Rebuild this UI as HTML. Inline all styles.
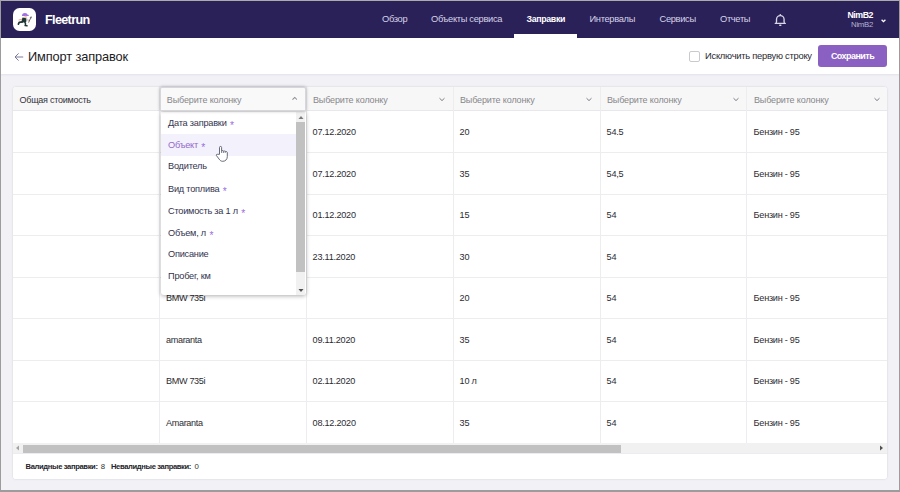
<!DOCTYPE html>
<html lang="ru">
<head>
<meta charset="utf-8">
<title>Fleetrun</title>
<style>
*{box-sizing:border-box;margin:0;padding:0}
html,body{width:900px;height:492px;overflow:hidden}
body{font-family:"Liberation Sans",sans-serif;background:#f1f1f6;position:relative;color:#222}
div,span{white-space:nowrap}
#frame{position:absolute;left:0;top:0;width:900px;height:492px;border:1px solid #9c9c9c;border-top-color:#ababab;border-bottom:2px solid #9c9c9c;z-index:50}
#nav{position:absolute;left:1px;top:1px;width:898px;height:37px;background:#2a2159}
#logo{position:absolute;left:12px;top:7px;width:23px;height:23px;border-radius:6.5px;background:#fff;overflow:hidden}
#brand{position:absolute;left:44px;top:11px;font-size:12.6px;font-weight:bold;color:#fff;line-height:16px;letter-spacing:-0.65px}
.ni{position:absolute;top:12px;font-size:9.3px;line-height:12px;color:#d6d3e8;letter-spacing:-0.32px}
.ni.act{color:#fff;font-weight:bold;font-size:8.8px;letter-spacing:-0.33px}
#actbar{position:absolute;left:513px;top:33px;width:63px;height:4px;background:#fff}
#toolbar{position:absolute;left:1px;top:38px;width:898px;height:36px;background:#fff;box-shadow:0 1px 2px rgba(30,30,60,.07)}
#title{position:absolute;left:27px;top:10.7px;font-size:12.8px;line-height:16px;color:#1c1c24;letter-spacing:-0.12px}
#chk{position:absolute;left:688px;top:13px;width:11px;height:11px;border:1px solid #c9c9cf;border-radius:2px;background:#fff}
#chkl{position:absolute;left:704px;top:12px;font-size:9.4px;line-height:12px;color:#2b2b33;letter-spacing:-0.26px}
#save{position:absolute;left:817px;top:7px;width:69px;height:22px;border-radius:3px;background:#8a61c2;color:#fff;font-weight:bold;font-size:9px;line-height:22px;text-align:center;letter-spacing:-0.55px}
#panel{position:absolute;left:13px;top:87px;width:874px;height:392px;background:#fff;border-radius:3px;box-shadow:0 0 2px rgba(40,40,80,.18)}
#pin{position:absolute;left:0;top:0;width:874px;height:392px;border-radius:3px;overflow:hidden}
#thead{position:absolute;left:0;top:0;width:874px;height:24px;background:#f7f7f8;border-bottom:1px solid #e8e8ec}
.vl{position:absolute;top:0;width:1px;height:356px;background:#ededf0}
.hl{position:absolute;left:0;width:874px;height:1px;background:#ededf0}
.th{position:absolute;top:6.6px;font-size:9px;line-height:12px;color:#87878a;letter-spacing:-0.14px}
.th.first{color:#33333b;letter-spacing:-0.25px}
.td{position:absolute;font-size:9.1px;line-height:12px;color:#2c2c32;letter-spacing:-0.24px}
.chev{position:absolute;top:9.5px;width:6px;height:5px}
#hscroll{position:absolute;left:0;top:356.3px;width:874px;height:10px;background:#f1f1f1}
#hthumb{position:absolute;left:10.4px;top:1.6px;width:597.3px;height:7.8px;background:#c1c1c1}
#foot{position:absolute;left:0;top:366px;width:874px;height:26px;background:#fff;border-top:1px solid #ececf0}
.fb{position:absolute;top:8px;font-size:7.6px;line-height:10px;color:#25252b;font-weight:bold;letter-spacing:-0.36px}
.fv{position:absolute;top:8px;font-size:7.8px;line-height:10px;color:#333;letter-spacing:-0.2px}
#dd{position:absolute;left:160px;top:87.2px;width:146.3px;height:24px;background:#f9f9fa;border:1px solid #d6d6db;border-radius:2px 2px 0 0;box-shadow:0 0 3.5px rgba(0,0,0,.32);z-index:5}
#ddl{position:absolute;left:160.5px;top:111.5px;width:145.8px;height:183px;background:#fff;border-radius:0 0 3px 3px;box-shadow:0 1px 4px rgba(0,0,0,.32);z-index:4;overflow:hidden}
.it{position:absolute;left:0;width:135.7px;height:22px;padding-left:7.5px;font-size:9.2px;line-height:21.2px;color:#33334f;letter-spacing:-0.22px}
.it i{font-style:normal;color:#9a6ee0;margin-left:3.4px;font-size:10.2px;letter-spacing:0;position:relative;top:3px}
.it.hov{background:#f3f1fb;color:#9469cd}
#vtrack{position:absolute;left:135.7px;top:0;width:8.4px;height:183px;background:#f1f1f1}
#vthumb{position:absolute;left:0.3px;top:10.2px;width:8.1px;height:150px;background:#c1c1c1}
</style>
</head>
<body>
<div id="nav">
<div id="logo"><svg width="23" height="23" viewBox="13 8 23 23" style="display:block">
<path d="M22 16.1 Q21.9 13.1 25 13.1 Q27.2 13.1 27.7 14.7 L29.1 14.9 L28.3 15.9 Z" fill="#9e72e2"/>
<ellipse cx="25.6" cy="17" rx="1.35" ry="1.25" fill="#f6c4b6"/>
<path d="M26.2 18.2 L27.6 18.6 L27.4 21.2 L26 21.4Z" fill="#d9dcdc"/>
<path d="M22.6 17.6 L25.2 18 L26.4 18.6 L26.2 22.2 L21.6 22.4 L21.8 19.4Z" fill="#1d3733"/>
<path d="M22.4 21.8 L19.2 22.4 L18.4 24.2" stroke="#1d3733" stroke-width="1.7" fill="none" stroke-linecap="round" stroke-linejoin="round"/>
<path d="M24.8 22 L25.6 24 L25.1 25.6 L27 25.8" stroke="#1d3733" stroke-width="1.5" fill="none" stroke-linecap="round" stroke-linejoin="round"/>
<path d="M21.6 19.2 L19 20" stroke="#f2a3a3" stroke-width="1.1" fill="none" stroke-linecap="round"/>
<path d="M26.6 19.2 L28.4 20.4" stroke="#c9cccc" stroke-width="1" fill="none"/>
<circle cx="28.8" cy="20.3" r="0.9" fill="#f4b2b2"/>
<path d="M28.6 22.6 L30.8 17.6" stroke="#5a5a5a" stroke-width="0.9" fill="none"/>
<path d="M29.5 17 L32 16.6 L31.3 18.5Z" fill="#666"/>
</svg></div>
<div id="brand">Fleetrun</div>
<div class="ni" style="left:381px">Обзор</div>
<div class="ni" style="left:430px">Объекты сервиса</div>
<div class="ni act" style="left:525.5px">Заправки</div>
<div class="ni" style="left:588.5px">Интервалы</div>
<div class="ni" style="left:658.5px">Сервисы</div>
<div class="ni" style="left:719px">Отчеты</div>
<div id="actbar"></div>
<svg style="position:absolute;left:771px;top:10px" width="17" height="17" viewBox="0 0 17 17"><path d="M4.2 12 C4.8 10.8 4.5 9.6 4.5 8.5 a3.8 3.9 0 0 1 7.6 0 C12.1 9.6 11.8 10.8 12.4 12" fill="none" stroke="#d9d6e8" stroke-width="1.35"/><path d="M3.2 12.35 H13.4" stroke="#d9d6e8" stroke-width="1.3" stroke-linecap="round"/><rect x="7.1" y="13.5" width="2.4" height="1.4" rx="0.6" fill="#d9d6e8"/><circle cx="8.3" cy="3.9" r="0.85" fill="#d9d6e8"/></svg>
<div style="position:absolute;right:26px;top:9px;font-size:8.8px;line-height:11px;font-weight:bold;color:#fff;letter-spacing:-0.45px">NimB2</div>
<div style="position:absolute;right:26px;top:19px;font-size:7.8px;line-height:10px;color:#b5b1d0;letter-spacing:-0.3px">NimB2</div>
<svg style="position:absolute;left:880px;top:17.5px" width="5" height="4" viewBox="0 0 5 4"><path d="M0.6 0.8 L2.5 2.7 L4.4 0.8" fill="none" stroke="#fff" stroke-width="1.3"/></svg>
</div>
<div id="toolbar">
<svg style="position:absolute;left:13px;top:13.6px" width="10" height="10" viewBox="0 0 10 10"><path d="M9.2 5 H1.2 M4.6 1.4 L1 5 L4.6 8.6" fill="none" stroke="#74749a" stroke-width="0.95"/></svg>
<div id="title">Импорт заправок</div>
<div id="chk"></div>
<div id="chkl">Исключить первую строку</div>
<div id="save">Сохранить</div>
</div>
<div id="panel"><div id="pin">
<div id="thead"></div>
<div class="vl" style="left:146px"></div>
<div class="vl" style="left:293px"></div>
<div class="vl" style="left:440px"></div>
<div class="vl" style="left:587px"></div>
<div class="vl" style="left:733px"></div>
<div class="hl" style="top:65.2px"></div>
<div class="hl" style="top:106.7px"></div>
<div class="hl" style="top:148.2px"></div>
<div class="hl" style="top:189.8px"></div>
<div class="hl" style="top:231.3px"></div>
<div class="hl" style="top:272.9px"></div>
<div class="hl" style="top:314.4px"></div>
<div class="hl" style="top:356.0px"></div>
<div class="th first" style="left:6.5px">Общая стоимость</div>
<div class="th" style="left:300.0px">Выберите колонку</div>
<svg class="chev" style="left:426.2px" viewBox="0 0 6 5"><path d="M0.5 1.2 L3 3.6 L5.5 1.2" fill="none" stroke="#7d7d84" stroke-width="1"/></svg>
<div class="th" style="left:447.0px">Выберите колонку</div>
<svg class="chev" style="left:573.2px" viewBox="0 0 6 5"><path d="M0.5 1.2 L3 3.6 L5.5 1.2" fill="none" stroke="#7d7d84" stroke-width="1"/></svg>
<div class="th" style="left:594.0px">Выберите колонку</div>
<svg class="chev" style="left:720.2px" viewBox="0 0 6 5"><path d="M0.5 1.2 L3 3.6 L5.5 1.2" fill="none" stroke="#7d7d84" stroke-width="1"/></svg>
<div class="th" style="left:741.0px">Выберите колонку</div>
<svg class="chev" style="left:861.4px" viewBox="0 0 6 5"><path d="M0.5 1.2 L3 3.6 L5.5 1.2" fill="none" stroke="#7d7d84" stroke-width="1"/></svg>
<div class="td" style="left:299.6px;top:39.1px">07.12.2020</div>
<div class="td" style="left:446.6px;top:39.1px">20</div>
<div class="td" style="left:593.6px;top:39.1px">54.5</div>
<div class="td" style="left:740.6px;top:39.1px">Бензин - 95</div>
<div class="td" style="left:299.6px;top:80.6px">07.12.2020</div>
<div class="td" style="left:446.6px;top:80.6px">35</div>
<div class="td" style="left:593.6px;top:80.6px">54,5</div>
<div class="td" style="left:740.6px;top:80.6px">Бензин - 95</div>
<div class="td" style="left:299.6px;top:122.2px">01.12.2020</div>
<div class="td" style="left:446.6px;top:122.2px">15</div>
<div class="td" style="left:593.6px;top:122.2px">54</div>
<div class="td" style="left:740.6px;top:122.2px">Бензин - 95</div>
<div class="td" style="left:299.6px;top:163.7px">23.11.2020</div>
<div class="td" style="left:446.6px;top:163.7px">30</div>
<div class="td" style="left:593.6px;top:163.7px">54</div>
<div class="td" style="left:153.0px;top:205.3px;letter-spacing:-0.34px">BMW 735i</div>
<div class="td" style="left:446.6px;top:205.3px">20</div>
<div class="td" style="left:593.6px;top:205.3px">54</div>
<div class="td" style="left:740.6px;top:205.3px">Бензин - 95</div>
<div class="td" style="left:153.0px;top:246.8px;letter-spacing:-0.34px">amaranta</div>
<div class="td" style="left:299.6px;top:246.8px">09.11.2020</div>
<div class="td" style="left:446.6px;top:246.8px">35</div>
<div class="td" style="left:593.6px;top:246.8px">54</div>
<div class="td" style="left:740.6px;top:246.8px">Бензин - 95</div>
<div class="td" style="left:153.0px;top:288.4px;letter-spacing:-0.34px">BMW 735i</div>
<div class="td" style="left:299.6px;top:288.4px">02.11.2020</div>
<div class="td" style="left:446.6px;top:288.4px">10 л</div>
<div class="td" style="left:593.6px;top:288.4px">54</div>
<div class="td" style="left:740.6px;top:288.4px">Бензин - 95</div>
<div class="td" style="left:153.0px;top:329.9px;letter-spacing:-0.34px">Amaranta</div>
<div class="td" style="left:299.6px;top:329.9px">08.12.2020</div>
<div class="td" style="left:446.6px;top:329.9px">35</div>
<div class="td" style="left:593.6px;top:329.9px">54</div>
<div class="td" style="left:740.6px;top:329.9px">Бензин - 95</div>
<div id="hscroll"><div id="hthumb"></div><svg style="position:absolute;left:2px;top:2px" width="5" height="6" viewBox="0 0 5 6"><path d="M4 0.5 L1 3 L4 5.5Z" fill="#a3a3a3"/></svg><svg style="position:absolute;left:866px;top:2px" width="5" height="6" viewBox="0 0 5 6"><path d="M1 0.5 L4 3 L1 5.5Z" fill="#505050"/></svg></div>
<div id="foot"><div class="fb" style="left:12.6px">Валидные заправки:</div><div class="fv" style="left:87.8px">8</div><div class="fb" style="left:98px">Невалидные заправки:</div><div class="fv" style="left:181.5px">0</div></div>
</div></div>
<div id="dd"><div class="th" style="left:5.8px;top:5.6px">Выберите колонку</div><svg class="chev" style="left:130.8px;top:8.2px;width:5.6px" viewBox="0 0 6 5"><path d="M0.5 3.8 L3 1.4 L5.5 3.8" fill="none" stroke="#8c8c92" stroke-width="1.1"/></svg></div>
<div id="ddl">
<div class="it" style="top:0px">Дата заправки<i>*</i></div>
<div class="it hov" style="top:22px">Объект<i>*</i></div>
<div class="it" style="top:44px">Водитель</div>
<div class="it" style="top:66px">Вид топлива<i>*</i></div>
<div class="it" style="top:88px">Стоимость за 1 л<i>*</i></div>
<div class="it" style="top:110px">Объем, л<i>*</i></div>
<div class="it" style="top:132px">Описание</div>
<div class="it" style="top:154px">Пробег, км</div>
<div id="vtrack"><div id="vthumb"></div><svg style="position:absolute;left:2px;top:3px" width="6" height="5" viewBox="0 0 6 5"><path d="M0.5 4 L3 1 L5.5 4Z" fill="#7a7a7a"/></svg><svg style="position:absolute;left:2px;top:176px" width="6" height="5" viewBox="0 0 6 5"><path d="M0.5 1 L3 4 L5.5 1Z" fill="#505050"/></svg></div>
</div>
<svg style="position:absolute;left:214px;top:144px;z-index:20" width="16" height="20" viewBox="214 144 16 20"><path d="M219.5 154.3 V147.5 a1.05 1.05 0 0 1 2.1 0 V150.9 c0.4 -0.5 1.5 -0.4 1.8 0.2 c0.4 -0.4 1.5 -0.3 1.8 0.4 c0.6 -0.3 1.9 0 2.1 1 V156.6 c0 2.6 -1.7 4.7 -4.5 4.7 c-1.8 0 -2.8 -0.9 -3.6 -2.1 L216.5 155.7 c-0.6 -0.9 0.2 -1.6 1 -1.4 Z" fill="#fff" stroke="#4d5261" stroke-width="0.85" stroke-linejoin="round"/><path d="M221.6 150.9 V153 M223.4 151.1 V153 M225.2 151.5 V153" stroke="#4d5261" stroke-width="0.7" fill="none"/></svg>
<div id="frame"></div>
</body>
</html>
